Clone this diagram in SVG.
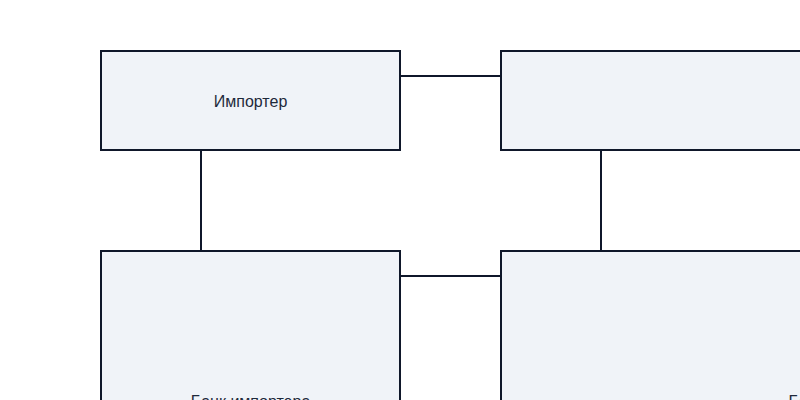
<svg xmlns="http://www.w3.org/2000/svg" width="800" height="400" viewBox="0 0 800 400">
<style>
.node rect{fill:#f0f3f8;stroke:#0f172a;stroke-width:2}
.node text{font-family:"Liberation Sans",Arial,sans-serif;font-size:16px;fill:#1e293b;text-anchor:middle;dominant-baseline:central}
.edges line{stroke:#0f172a;stroke-width:2}
</style>
<rect width="800" height="400" fill="#ffffff"/>
<g class="edges">
<line x1="400" y1="76" x2="501" y2="76"/>
<line x1="201" y1="150" x2="201" y2="251"/>
<line x1="601" y1="150" x2="601" y2="251"/>
<line x1="400" y1="276" x2="501" y2="276"/>
</g>
<g id="importer" class="node"><rect x="101" y="51" width="299" height="99"/><text x="250.5" y="101">Импортер</text></g>
<g id="exporter" class="node"><rect x="501" y="51" width="700" height="99"/><text x="852" y="101">Экспортер</text></g>
<g id="importer-bank" class="node"><rect x="101" y="251" width="299" height="299"/><text x="250.5" y="401">Банк импортера</text></g>
<g id="exporter-bank" class="node"><rect x="501" y="251" width="700" height="299"/><text x="850" y="401">Банк экспортера</text></g>
</svg>
